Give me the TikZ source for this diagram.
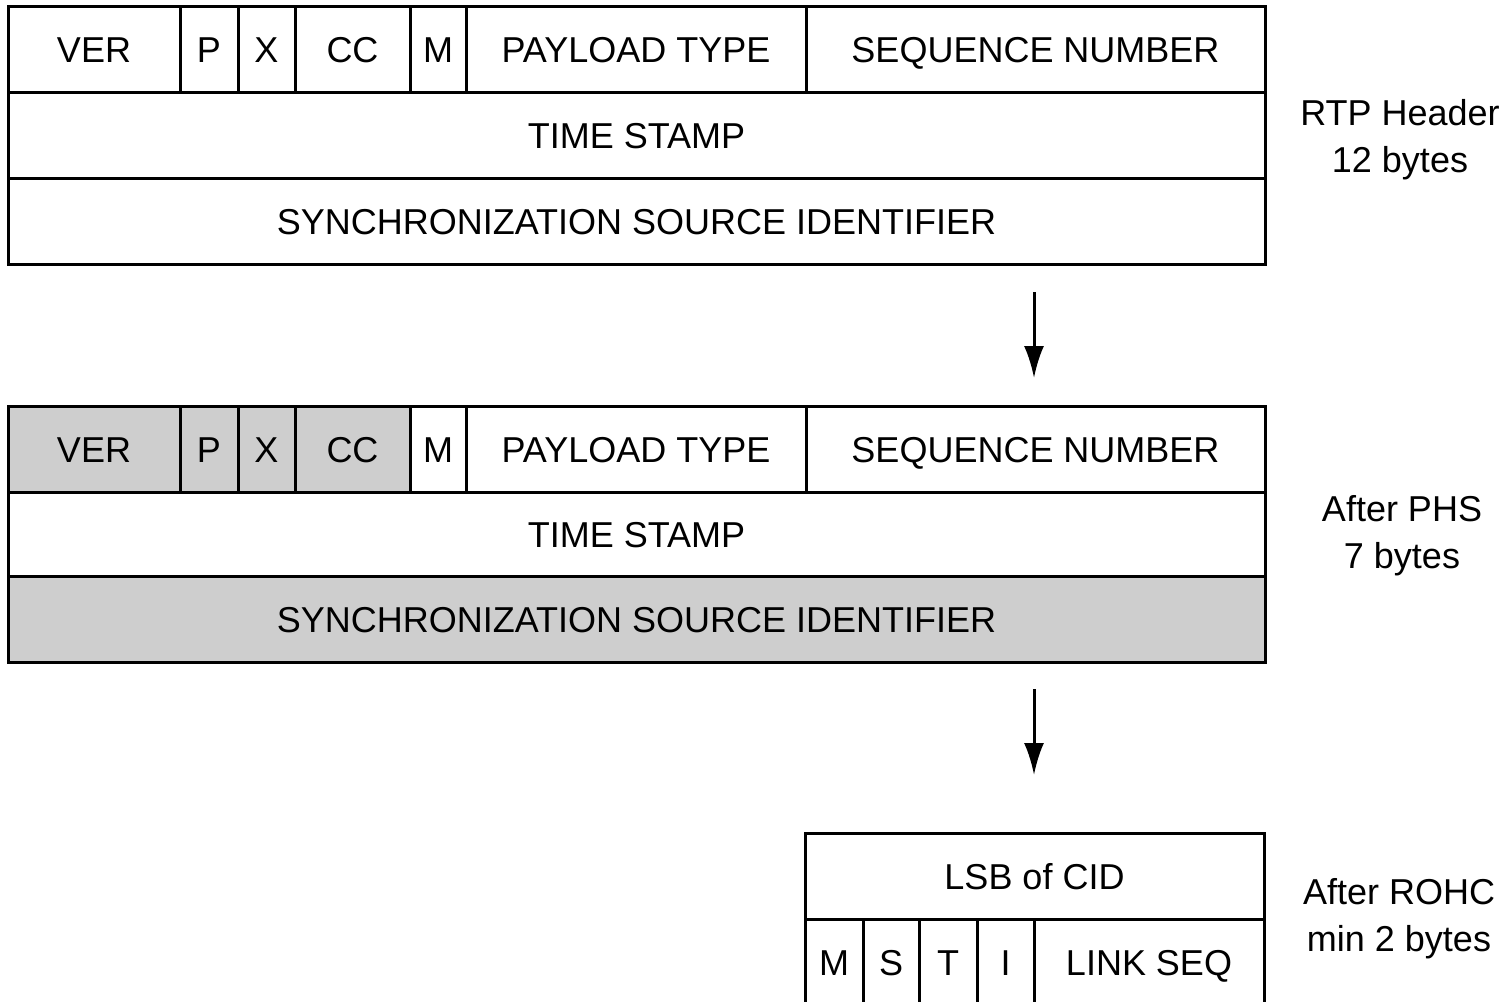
\documentclass[tikz,border=0pt]{standalone}
\usepackage{fontspec}
\setmainfont{Liberation Sans}
\usetikzlibrary{arrows.meta,positioning}
\definecolor{phsgrey}{RGB}{206,206,206}

\begin{document}
\begin{tikzpicture}[x=0.5pt, y=-0.5pt,
    field/.style={draw, line width=1.5pt, inner sep=0pt, outer sep=0pt,
                  minimum height=43pt, text height=13pt, text depth=0pt,
                  font=\fontsize{18}{22}\selectfont},
    removed/.style={field, fill=phsgrey},
    size/.style={align=center, font=\fontsize{18}{23.5}\selectfont},
    arrow/.style={-{Latex[length=16pt,width=10pt]}, line width=1.5pt}
  ]
  \useasboundingbox (0,0) rectangle (1509,1001);
  \clip (0,0) rectangle (1509,1001);

  % full RTP header
  \node[field, anchor=north west, minimum width=86pt] (ver1) at (8,6) {VER};
  \node[field, minimum width=29pt,    right=0pt of ver1] (p1)  {P};
  \node[field, minimum width=28.5pt,  right=0pt of p1]   (x1)  {X};
  \node[field, minimum width=57.5pt,  right=0pt of x1]   (cc1) {CC};
  \node[field, minimum width=28pt,    right=0pt of cc1]  (m1)  {M};
  \node[field, minimum width=170pt,   right=0pt of m1]   (pt1) {PAYLOAD TYPE};
  \node[field, minimum width=229.5pt, right=0pt of pt1]  (sn1) {SEQUENCE NUMBER};
  \node[field, anchor=north west, minimum width=628.5pt] (ts1)   at (ver1.south west) {TIME STAMP};
  \node[field, anchor=north west, minimum width=628.5pt] (ssrc1) at (ts1.south west)  {SYNCHRONIZATION SOURCE IDENTIFIER};
  \node[size] (rtp) at (1400,140) {RTP Header\\12 bytes};

  % after PHS (suppressed fields in grey)
  \node[removed, anchor=north west, minimum width=86pt] (ver2) at (8,406) {VER};
  \node[removed, minimum width=29pt,   right=0pt of ver2] (p2)  {P};
  \node[removed, minimum width=28.5pt, right=0pt of p2]   (x2)  {X};
  \node[removed, minimum width=57.5pt, right=0pt of x2]   (cc2) {CC};
  \node[field, minimum width=28pt,     right=0pt of cc2]  (m2)  {M};
  \node[field, minimum width=170pt,    right=0pt of m2]   (pt2) {PAYLOAD TYPE};
  \node[field, minimum width=229.5pt,  right=0pt of pt2]  (sn2) {SEQUENCE NUMBER};
  \node[field, anchor=north west, minimum width=628.5pt, minimum height=42pt] (ts2) at (ver2.south west) {TIME STAMP};
  \node[removed, anchor=north west, minimum width=628.5pt] (ssrc2) at (ts2.south west) {SYNCHRONIZATION SOURCE IDENTIFIER};
  \node[size] (phs) at (1402,536) {After PHS\\7 bytes};

  % after ROHC
  \node[field, anchor=north west, minimum width=229.5pt] (cid) at (805,833) {LSB of CID};
  \node[field, anchor=north west, minimum width=29pt] (m3) at (cid.south west) {M};
  \node[field, minimum width=28pt,   right=0pt of m3] (s3) {S};
  \node[field, minimum width=29pt,   right=0pt of s3] (t3) {T};
  \node[field, minimum width=28.5pt, right=0pt of t3] (i3) {I};
  \node[field, minimum width=115pt,  right=0pt of i3] (lseq) {LINK SEQ};
  \node[size] (rohc) at (1399,919) {After ROHC\\min 2 bytes};

  % arrows
  \coordinate (phsin)  at (1034,292);
  \coordinate (phsout) at (1034,378);
  \coordinate (rohcin)  at (1034,689);
  \coordinate (rohcout) at (1034,775);
  \draw[arrow] (phsin) -- (phsout);
  \draw[arrow] (rohcin) -- (rohcout);
\end{tikzpicture}
\end{document}
